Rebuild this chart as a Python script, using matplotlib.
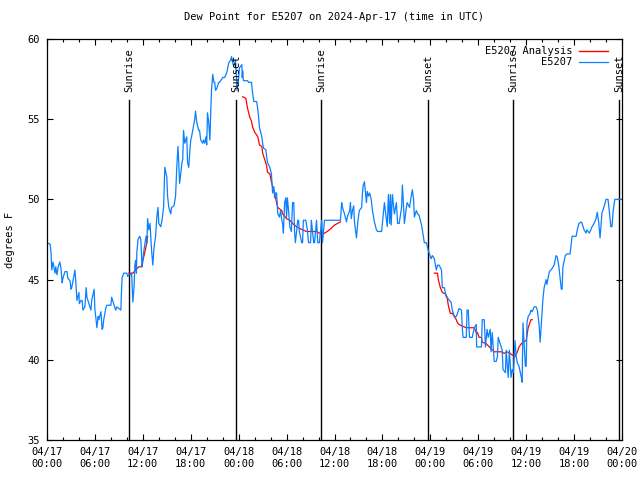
import matplotlib
matplotlib.use('Agg')
import matplotlib.pyplot as plt
import matplotlib.dates as mdates
import numpy as np
import pandas as pd

# data: hours since 2024-04-17 00:00 UTC, dew point in degrees F
start = pd.Timestamp('2024-04-17 00:00')

obs_hours = [
    0.0, 0.4, 0.5, 0.6, 0.75, 1.0, 1.1, 1.25, 1.4, 1.6, 1.75, 1.9, 2.0, 2.25, 2.5, 2.6, 2.9, 3.0, 3.1, 3.25,
    3.5, 3.6, 3.75, 4.0, 4.05, 4.25, 4.4, 4.5, 4.75, 4.9, 5.0, 5.25, 5.5, 5.6, 5.9, 6.0, 6.1, 6.25, 6.4, 6.5,
    6.75, 6.9, 7.0, 7.1, 7.4, 7.5, 7.75, 8.0, 8.1, 8.4, 8.6, 8.75, 9.0, 9.25, 9.3, 9.4, 9.6, 10.0, 10.1, 10.25,
    10.5, 10.6, 10.75, 10.9, 11.0, 11.1, 11.2, 11.25, 11.4, 11.6, 11.75, 11.9, 12.0, 12.1, 12.4, 12.5, 12.6, 12.75, 12.9, 13.0,
    13.1, 13.25, 13.4, 13.6, 13.75, 13.9, 14.0, 14.25, 14.4, 14.6, 14.75, 15.0, 15.1, 15.25, 15.5, 15.6, 15.9, 16.1, 16.25, 16.4,
    16.5, 16.6, 16.75, 16.9, 17.0, 17.1, 17.25, 17.5, 17.6, 17.75, 17.9, 18.0, 18.1, 18.25, 18.5, 18.6, 18.75, 19.0, 19.1, 19.25,
    19.5, 19.6, 19.75, 19.9, 20.0, 20.1, 20.25, 20.4, 20.5, 20.6, 20.75, 20.9, 21.0, 21.1, 21.25, 21.5, 21.6, 21.75, 22.0, 22.1,
    22.25, 22.5, 22.6, 22.75, 23.0, 23.1, 23.25, 23.4, 23.6, 23.75, 23.8, 24.0, 24.1, 24.4, 24.45, 24.5, 24.6, 24.9, 25.1, 25.25,
    25.4, 25.6, 25.75, 25.9, 26.25, 26.4, 26.5, 26.6, 26.9, 27.0, 27.1, 27.4, 27.6, 27.9, 28.1, 28.2, 28.25, 28.4, 28.5, 28.6,
    28.75, 28.9, 29.1, 29.25, 29.4, 29.5, 29.6, 29.75, 29.9, 30.0, 30.1, 30.25, 30.4, 30.6, 30.75, 30.9, 31.0, 31.1, 31.4, 31.5,
    31.6, 31.9, 32.0, 32.1, 32.4, 32.6, 32.75, 33.0, 33.1, 33.4, 33.5, 33.75, 33.9, 34.1, 34.4, 34.5, 34.75, 35.0, 36.75, 36.9,
    37.0, 37.25, 37.5, 37.6, 37.9, 38.0, 38.1, 38.25, 38.4, 38.5, 38.75, 38.9, 39.1, 39.4, 39.5, 39.6, 39.75, 40.0, 40.1, 40.25,
    40.4, 40.6, 40.75, 41.0, 41.25, 41.4, 41.9, 42.0, 42.25, 42.5, 42.6, 42.75, 42.9, 43.0, 43.1, 43.25, 43.5, 43.75, 43.9, 44.1,
    44.4, 44.5, 44.6, 44.75, 45.0, 45.1, 45.4, 45.6, 45.75, 45.9, 46.0, 46.25, 46.4, 46.6, 46.9, 47.0, 47.25, 47.5, 47.75, 48.1,
    48.25, 48.5, 48.75, 48.9, 49.1, 49.4, 49.5, 49.75, 50.0, 50.1, 50.4, 50.6, 50.75, 51.0, 51.25, 51.4, 51.6, 51.9, 52.0, 52.1,
    52.5, 52.6, 52.75, 52.9, 53.25, 53.5, 53.75, 53.8, 54.4, 54.5, 54.75, 54.9, 55.1, 55.25, 55.5, 55.6, 55.75, 56.0, 56.25, 56.4,
    56.5, 56.75, 57.0, 57.1, 57.4, 57.5, 57.75, 57.9, 58.1, 58.25, 58.4, 58.6, 58.75, 58.9, 59.1, 59.4, 59.5, 59.6, 59.9, 60.0,
    60.1, 60.25, 60.5, 60.6, 60.75, 61.0, 61.25, 61.4, 61.6, 61.75, 62.0, 62.1, 62.25, 62.5, 62.6, 62.9, 63.1, 63.25, 63.5, 63.75,
    63.9, 64.1, 64.4, 64.5, 64.6, 64.9, 65.1, 65.5, 65.75, 66.25, 66.4, 66.6, 66.9, 67.0, 67.25, 67.5, 67.6, 67.9, 68.1, 68.25,
    68.5, 68.75, 68.9, 69.1, 69.25, 69.5, 69.6, 69.9, 70.0, 70.25, 70.4, 70.6, 70.75, 70.9, 71.1, 71.6, 71.9,
]
obs_values = [
    47.3, 47.2, 46.7, 45.6, 46.1, 45.4, 45.8, 45.3, 45.8, 46.1, 45.7, 44.8, 45.1, 45.5, 45.5, 45.1, 44.9, 44.4, 44.5, 44.9,
    45.6, 44.9, 43.7, 44.2, 43.5, 43.7, 43.7, 43.1, 43.3, 44.5, 43.9, 43.5, 43.1, 43.7, 44.4, 43.1, 42.7, 42.0, 42.7, 42.5,
    43.0, 41.9, 42.0, 42.5, 43.3, 43.4, 43.4, 43.4, 43.9, 43.4, 43.1, 43.3, 43.2, 43.1, 43.9, 45.1, 45.4, 45.4, 45.2, 45.3,
    45.3, 45.4, 43.6, 44.5, 45.9, 46.2, 45.4, 46.7, 47.5, 47.7, 47.5, 45.8, 46.2, 46.7, 47.7, 47.3, 48.8, 48.1, 48.5, 47.7,
    46.8, 45.9, 47.0, 47.7, 48.9, 49.5, 48.5, 48.3, 48.7, 49.5, 52.0, 51.4, 50.2, 49.5, 49.1, 49.5, 49.6, 50.2, 52.0, 53.3,
    52.3, 51.0, 51.6, 52.3, 52.5, 54.3, 53.5, 53.9, 52.3, 52.0, 53.1, 53.7, 53.9, 54.3, 55.0, 55.5, 54.8, 54.3, 54.3, 53.7,
    53.5, 53.7, 53.5, 53.9, 53.4, 55.4, 54.8, 53.7, 55.4, 56.8, 57.8, 57.3, 57.3, 56.8, 56.9, 57.3, 57.3, 57.4, 57.6, 57.6,
    57.6, 57.9, 58.1, 58.5, 58.7, 58.9, 58.5, 58.3, 58.7, 57.4, 56.8, 57.6, 58.2, 58.4, 57.6, 58.0, 57.4, 57.4, 57.4, 57.3,
    57.3, 57.3, 56.6, 56.1, 56.1, 55.6, 55.1, 54.5, 53.9, 53.5, 53.2, 53.1, 52.3, 52.0, 51.6, 50.8, 50.4, 50.8, 50.1, 50.4,
    50.4, 49.1, 48.9, 49.3, 48.7, 48.5, 47.9, 49.8, 50.1, 48.9, 50.1, 49.3, 48.3, 48.0, 49.8, 49.8, 48.0, 47.3, 48.7, 48.7,
    48.0, 47.3, 47.3, 48.7, 48.7, 48.1, 47.3, 47.3, 48.7, 47.3, 47.3, 48.7, 47.3, 47.3, 48.7, 47.3, 48.7, 48.7, 48.7, 49.8,
    49.5, 49.1, 48.6, 48.9, 49.3, 49.8, 48.8, 49.3, 49.6, 48.6, 47.6, 48.5, 49.3, 49.5, 50.4, 50.9, 51.1, 49.8, 50.5, 50.2,
    50.4, 50.0, 49.3, 48.6, 48.1, 48.0, 48.0, 48.5, 49.8, 48.7, 48.3, 50.3, 48.5, 50.3, 48.4, 50.3, 49.1, 49.8, 48.5, 48.5,
    49.5, 50.9, 50.0, 48.5, 49.5, 49.8, 49.5, 50.2, 50.6, 50.0, 48.9, 49.3, 49.1, 49.0, 48.4, 48.1, 47.3, 47.3, 46.8, 46.3,
    46.5, 46.3, 45.6, 45.9, 45.9, 45.6, 44.5, 44.5, 43.9, 43.9, 43.7, 43.6, 43.1, 42.7, 42.7, 42.9, 43.2, 43.1, 42.0, 41.4,
    41.4, 43.1, 43.1, 41.4, 41.4, 42.0, 42.2, 40.8, 40.8, 42.5, 42.5, 40.8, 41.9, 41.4, 41.9, 40.5, 41.7, 39.9, 39.9, 40.2,
    41.4, 41.0, 40.6, 39.4, 39.2, 40.6, 38.9, 40.6, 38.9, 39.4, 39.2, 41.2, 40.2, 39.8, 39.6, 38.9, 38.6, 42.3, 39.6, 39.6,
    42.3, 42.7, 42.9, 43.1, 43.0, 43.3, 43.3, 43.1, 42.3, 41.1, 43.1, 43.8, 44.5, 45.0, 44.7, 45.5, 45.6, 45.7, 45.9, 46.5,
    46.4, 45.8, 44.4, 44.4, 45.8, 46.5, 46.6, 46.6, 47.7, 47.7, 48.1, 48.5, 48.6, 48.5, 48.1, 47.9, 48.1, 47.9, 48.1, 48.3,
    48.5, 48.8, 49.2, 48.5, 47.6, 49.2, 49.3, 49.8, 50.0, 50.0, 49.3, 48.3, 48.3, 49.3, 50.0, 50.0, 50.0,
]

# analysis segments (gaps between them)
ana_hours_1 = [10.25, 10.75, 11.1, 11.5, 11.9, 12.0, 12.25, 12.5, 12.6]
ana_values_1 = [45.4, 45.4, 45.6, 45.8, 45.8, 46.2, 46.7, 47.3, 47.7]
ana_hours_2 = [24.5, 24.9, 25.1, 25.4, 25.6, 25.75, 26.0, 26.4, 26.6, 26.9, 27.0, 27.25, 27.5, 27.6, 27.9, 28.1,
               28.25, 28.4, 28.75, 28.9, 29.4, 29.5, 30.0, 30.4, 30.75, 31.25, 31.6, 32.0, 32.5, 32.9, 33.25,
               33.75, 34.1, 34.4, 34.75, 35.1, 35.6, 36.0, 36.75]
ana_values_2 = [56.4, 56.3, 55.7, 55.1, 54.9, 54.5, 54.2, 53.9, 53.4, 53.3, 52.9, 52.5, 52.1, 51.7, 51.6, 51.1,
                50.8, 50.6, 49.8, 49.5, 49.3, 49.1, 48.8, 48.7, 48.5, 48.3, 48.2, 48.1, 48.0, 48.0, 48.0,
                48.0, 47.9, 47.8, 47.9, 48.0, 48.2, 48.4, 48.6]
ana_hours_3 = [48.5, 48.9, 49.0, 49.25, 49.5, 49.9, 50.1, 50.25, 50.5, 50.75, 51.0, 51.25, 51.4, 51.6, 52.0,
               52.5, 53.1, 53.5, 53.75, 53.9, 54.1, 54.4, 54.5, 55.0, 55.4, 55.6, 56.0, 56.4, 56.9, 57.25,
               57.6, 58.0, 58.25, 58.6, 58.9, 59.1, 59.4, 59.6, 60.0, 60.25, 60.6, 60.75]
ana_values_3 = [45.4, 45.4, 45.0, 44.5, 44.2, 44.1, 43.9, 43.4, 42.9, 42.9, 42.7, 42.5, 42.3, 42.2, 42.1,
                42.0, 42.0, 42.0, 41.7, 41.7, 41.4, 41.4, 41.1, 41.0, 40.8, 40.7, 40.5, 40.5, 40.5, 40.4,
                40.5, 40.4, 40.3, 40.2, 40.5, 40.8, 41.0, 41.1, 41.2, 42.0, 42.5, 42.5]

sun_hours = [10.27, 23.67, 34.31, 47.71, 58.35, 71.63]
sun_labels = ['Sunrise', 'Sunset', 'Sunrise', 'Sunset', 'Sunrise', 'Sunset']


def to_time(hours):
    return start + pd.to_timedelta(np.array(hours), unit='h')


plt.rcParams['font.family'] = ['DejaVu Sans Mono']
plt.rcParams['font.size'] = 7.5

fig = plt.figure(figsize=(6.4, 4.8), dpi=100)
ax = fig.add_axes([47 / 640, 1 - 440 / 480, 575 / 640, 401 / 480])

# sunrise / sunset markers
for h, lab in zip(sun_hours, sun_labels):
    t = to_time([h])[0]
    ax.plot([t, t], [35, 56.2], color='black', lw=1.0)
    ax.text(t, 56.7, lab, rotation=90, ha='center', va='bottom', fontsize=7.5)

for hrs, vals in [(ana_hours_1, ana_values_1), (ana_hours_2, ana_values_2), (ana_hours_3, ana_values_3)]:
    ax.plot(to_time(hrs), vals, color='#ff0000', lw=0.9)
ax.plot([], [], color='#ff0000', lw=1.0, label='E5207 Analysis')
ax.plot(to_time(obs_hours), obs_values, color='#0a80ff', lw=0.9, label='E5207')

ax.set_xlim(start, start + pd.Timedelta(hours=72))
ax.set_ylim(35, 60)
ax.set_yticks([35, 40, 45, 50, 55, 60])
ax.xaxis.set_major_locator(mdates.HourLocator(byhour=[0, 6, 12, 18]))
ax.xaxis.set_minor_locator(mdates.HourLocator(interval=2))
ax.xaxis.set_major_formatter(mdates.DateFormatter('%m/%d\n%H:%M'))
ax.tick_params(which='both', direction='in', top=True, right=True, width=0.8)
ax.tick_params(which='major', length=4, pad=5)
ax.tick_params(which='minor', length=2)
for s in ax.spines.values():
    s.set_linewidth(0.9)

ax.set_ylabel('degrees F', labelpad=9)
ax.set_title('Dew Point for E5207 on 2024-Apr-17 (time in UTC)', pad=14, fontsize=7.5)

ax.legend(loc='upper right', bbox_to_anchor=(1 - 7 / 575, 1), frameon=False, markerfirst=False,
          handlelength=2.8, borderaxespad=0.3, labelspacing=0.1, handletextpad=0.6)

fig.savefig('out.png', dpi=100)
